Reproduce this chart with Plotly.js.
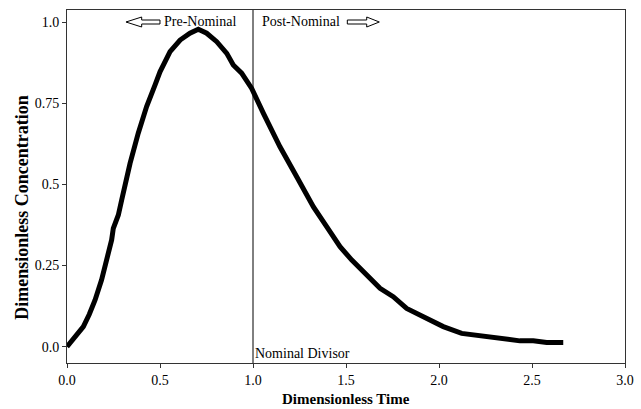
<!DOCTYPE html>
<html>
<head>
<meta charset="utf-8">
<script src="https://cdn.plot.ly/plotly-3.0.1.min.js"></script>
<style>html,body{margin:0;padding:0;background:#fff;}#chart{width:641px;height:409px;}</style>
</head>
<body>
<div id="chart"></div>
<script>
// Data
const timeValues = [0, 0.043, 0.088, 0.12, 0.151, 0.186, 0.213, 0.240, 0.249, 0.276, 0.294, 0.339, 0.383, 0.428, 0.473, 0.5, 0.554, 0.608, 0.661, 0.706, 0.751, 0.805, 0.859, 0.894, 0.939, 0.993, 1.056, 1.145, 1.235, 1.325, 1.396, 1.468, 1.531, 1.608, 1.683, 1.754, 1.826, 1.916, 2.023, 2.122, 2.274, 2.328, 2.435, 2.507, 2.579, 2.668];
const concValues = [0.0, 0.03, 0.062, 0.10, 0.144, 0.206, 0.262, 0.329, 0.365, 0.406, 0.452, 0.565, 0.658, 0.740, 0.806, 0.847, 0.909, 0.945, 0.966, 0.978, 0.966, 0.940, 0.904, 0.868, 0.843, 0.796, 0.719, 0.616, 0.524, 0.431, 0.370, 0.308, 0.267, 0.221, 0.180, 0.154, 0.118, 0.092, 0.062, 0.041, 0.031, 0.024, 0.018, 0.018, 0.013, 0.013];
const xTickVals = [0, 0.5, 1.0, 1.5, 2.0, 2.5, 3.0];
const xTickText = ["0.0", "0.5", "1.0", "1.5", "2.0", "2.5", "3.0"];
const yTickVals = [0, 0.25, 0.5, 0.75, 1.0];
const yTickText = ["0.0", "0.25", "0.5", "0.75", "1.0"];
const nominalDivisor = 1.0;
const labels = {x: "Dimensionless Time", y: "Dimensionless Concentration", pre: "Pre-Nominal", post: "Post-Nominal", divisor: "Nominal Divisor"};

const serif = "Liberation Serif, Times New Roman, serif";
const axisCommon = {
  showline: true, linecolor: "#333", linewidth: 1, mirror: true,
  ticks: "outside", ticklen: 4, tickwidth: 1, tickcolor: "#333",
  showgrid: false, zeroline: false,
  tickfont: {family: serif, size: 14, color: "#000"}
};

const trace = {
  x: timeValues, y: concValues, type: "scatter", mode: "lines",
  line: {color: "#000", width: 5}, hoverinfo: "skip"
};

const layout = {
  width: 641, height: 409,
  margin: {l: 67, r: 16, t: 10, b: 46},
  paper_bgcolor: "#fff", plot_bgcolor: "#fff",
  showlegend: false,
  xaxis: Object.assign({}, axisCommon, {range: [0, 3], tickvals: xTickVals, ticktext: xTickText}),
  yaxis: Object.assign({}, axisCommon, {range: [-0.0502, 1.0376], tickvals: yTickVals, ticktext: yTickText}),
  shapes: [
    {type: "line", xref: "x", yref: "paper", x0: nominalDivisor, x1: nominalDivisor, y0: 0, y1: 1,
     line: {color: "#000", width: 1}},
    {type: "path", xref: "paper", yref: "paper", xsizemode: "pixel", ysizemode: "pixel",
     xanchor: 0.1057, yanchor: 0.966,
     path: "M0,0 L15.7,5 L15.7,2 L34,2 L34,-2 L15.7,-2 L15.7,-5 Z",
     line: {color: "#000", width: 1}, fillcolor: "#fff"},
    {type: "path", xref: "paper", yref: "paper", xsizemode: "pixel", ysizemode: "pixel",
     xanchor: 0.5597, yanchor: 0.966,
     path: "M0,0 L-12.6,5 L-12.6,2 L-32,2 L-32,-2 L-12.6,-2 L-12.6,-5 Z",
     line: {color: "#000", width: 1}, fillcolor: "#fff"}
  ],
  annotations: [
    {text: labels.pre, xref: "paper", yref: "paper", x: 0.3065, y: 0.967, xanchor: "right", yanchor: "middle",
     showarrow: false, font: {family: serif, size: 14, color: "#000"}},
    {text: labels.post, xref: "paper", yref: "paper", x: 0.3459, y: 0.967, xanchor: "left", yanchor: "middle",
     showarrow: false, font: {family: serif, size: 14, color: "#000"}},
    {text: labels.divisor, xref: "paper", yref: "paper", x: 0.333, y: 0.0275, xanchor: "left", yanchor: "middle",
     showarrow: false, font: {family: serif, size: 14, color: "#000"}},
    {text: labels.x, xref: "paper", yref: "paper", x: 0.5, y: -0.1289, xanchor: "center", yanchor: "bottom",
     showarrow: false, font: {family: serif, size: 15, color: "#000", weight: "bold"}},
    {text: labels.y, xref: "paper", yref: "paper", x: -0.0812, y: 0.442, xanchor: "center", yanchor: "middle",
     textangle: -90, showarrow: false, font: {family: serif, size: 18, color: "#000", weight: "bold"}}
  ]
};

Plotly.newPlot("chart", [trace], layout, {staticPlot: true, displayModeBar: false});
</script>
</body>
</html>
